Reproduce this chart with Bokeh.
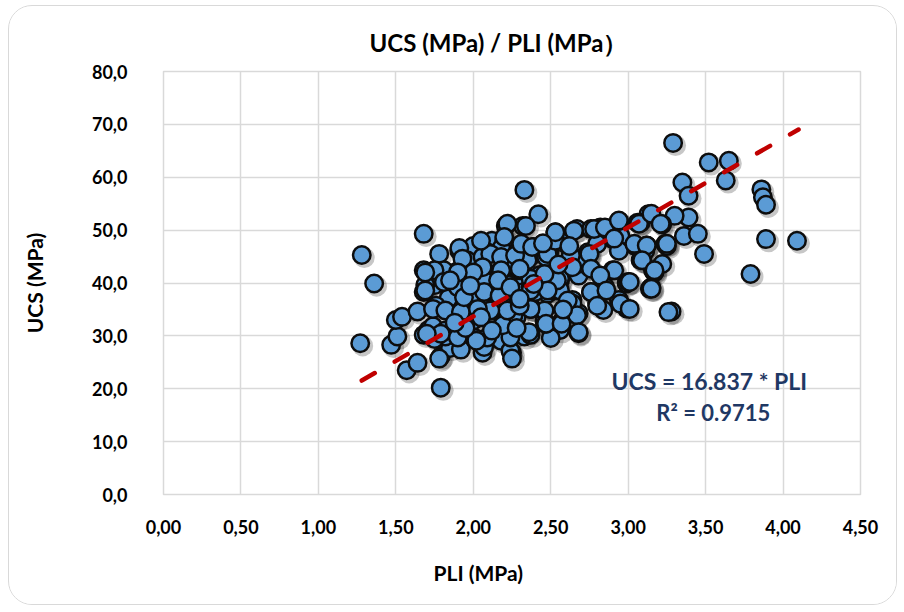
from bokeh.plotting import figure
from bokeh.models import FixedTicker, Label, ColumnDataSource, Range1d, Title
from bokeh.transform import dodge
from bokeh.embed import file_html
from bokeh.resources import INLINE

# ---- data ----
pli = [
    1.68, 1.28, 1.36, 1.27, 1.47, 1.51, 1.50, 1.54, 1.64, 1.57, 1.64, 1.79, 1.68, 1.68, 1.68, 1.71,
    1.78, 1.91, 2.00, 1.81, 1.90, 2.00, 1.96, 1.82, 1.92, 1.79, 1.85, 1.92, 1.82, 2.01, 2.06, 2.09,
    2.06, 1.96, 1.84, 1.75, 1.74, 2.18, 2.22, 2.21, 2.32, 2.14, 2.29, 2.19, 2.17, 2.29, 2.20, 2.25,
    2.25, 2.33, 2.28, 2.11, 2.07,
    3.49, 3.28, 3.14, 3.16, 3.22, 3.24, 3.36, 3.45, 3.09, 3.04, 3.12, 2.90, 2.99, 2.94, 2.99, 2.85,
    2.80, 2.76, 2.84, 2.90, 2.74, 2.63, 2.64, 2.68, 2.68, 2.57, 2.56, 2.46, 2.37, 2.50, 2.38, 2.48,
    2.56, 2.49, 2.38, 2.31, 2.29, 2.52, 2.68, 2.67, 2.82, 2.95, 2.20,
    3.29, 3.52, 3.65, 3.63, 3.35, 3.39, 3.86, 3.87, 3.89, 3.89, 4.09, 3.79, 3.39, 3.30, 3.22, 3.13,
    3.08, 3.25, 3.17, 3.15,
    2.33, 1.91, 2.22, 2.12, 2.20, 2.18, 2.32, 2.29, 2.17, 2.09, 2.06, 1.89, 1.81, 1.75, 1.69, 1.92,
    2.42,
    2.34, 2.53, 2.76, 2.84, 2.94, 3.06, 2.39, 2.57, 2.74, 2.80, 2.90, 2.94, 3.11, 3.08, 2.75, 2.69,
    2.56, 2.43, 2.35, 2.30, 2.37, 3.00, 2.85,
    1.93, 1.90, 2.07, 2.20, 2.37, 2.48, 2.47, 2.11, 2.22, 1.76, 1.82, 1.75, 2.00, 2.08, 2.19, 2.26,
    2.37, 2.47, 2.46, 2.18, 2.24, 2.25, 1.78, 2.07, 2.51, 2.40, 2.16, 2.00,
    2.20, 2.18, 2.27, 2.31, 2.38, 2.48, 2.53, 2.53, 2.65, 2.78, 2.85, 2.94, 3.07, 3.15, 3.21, 3.25,
    2.91, 3.04, 3.12, 3.09, 3.17, 3.15, 3.01, 2.91, 2.75, 2.63, 2.64, 2.76, 2.82, 2.76, 2.86, 2.80,
    2.95, 3.01, 3.26, 2.64, 2.67, 2.56, 2.54, 2.46, 2.48, 2.37, 2.30, 2.18, 2.06, 2.00, 1.90, 1.81,
    1.69, 1.69, 1.74, 1.82, 1.92, 2.07, 2.17, 2.37, 2.47, 2.57, 2.68, 2.36, 2.24, 2.19, 2.09, 2.02,
    1.90, 1.79, 1.70, 1.94, 1.85, 2.16, 2.24, 2.22, 2.30, 2.11, 2.03, 2.39, 2.61,
    1.95, 2.05, 2.12, 1.88, 2.30, 2.55, 2.45, 2.62, 2.05, 1.98, 2.28, 2.58,
]
ucs = [
    49.3, 45.3, 39.9, 28.6, 28.3, 29.9, 33.0, 33.6, 34.6, 23.5, 24.9, 20.2, 42.4, 38.3, 30.2, 31.1,
    45.5, 46.1, 47.0, 40.2, 42.1, 42.1, 44.3, 35.2, 34.9, 26.1, 27.7, 27.4, 29.9, 29.6, 26.8, 29.6,
    38.3, 37.4, 37.1, 39.6, 31.8, 42.4, 44.9, 50.8, 50.8, 46.8, 44.9, 39.3, 36.8, 38.3, 32.1, 29.9,
    26.8, 29.9, 33.6, 35.5, 40.5,
    45.5, 34.6, 38.9, 42.4, 43.6, 47.4, 48.9, 49.3, 44.3, 47.1, 47.1, 42.4, 39.9, 36.8, 35.2, 38.6,
    36.1, 38.3, 34.9, 49.3, 45.8, 45.2, 36.8, 34.3, 30.5, 32.7, 31.1, 32.7, 30.2, 29.6, 35.2, 38.0,
    40.5, 45.8, 45.2, 43.0, 41.4, 39.3, 41.4, 50.2, 50.5, 48.9, 35.5,
    66.5, 62.8, 63.1, 59.4, 59.0, 56.5, 57.7, 56.2, 54.8, 48.3, 48.0, 41.7, 52.4, 52.7, 51.1, 53.0,
    51.4, 47.0, 42.0, 39.2,
    57.6, 46.6, 51.2, 48.0, 48.1, 46.5, 45.8, 42.7, 42.1, 45.8, 44.9, 42.1, 42.4, 42.4, 39.6, 40.2,
    53.0,
    50.8, 49.6, 50.2, 50.2, 51.7, 51.4, 46.8, 47.7, 45.2, 47.4, 48.3, 46.1, 46.1, 44.3, 43.0, 43.7,
    40.9, 41.5, 44.3, 42.4, 39.3, 40.2, 39.3,
    44.6, 39.2, 38.0, 43.0, 40.8, 40.5, 44.9, 45.5, 39.8, 35.7, 31.0, 29.4, 32.9, 35.1, 32.3, 33.9,
    35.1, 32.3, 34.8, 29.1, 27.2, 25.7, 25.7, 27.9, 38.6, 38.3, 38.9, 37.0,
    48.7, 44.9, 45.2, 47.4, 46.8, 45.5, 48.0, 49.6, 49.9, 50.2, 50.5, 51.8, 51.2, 53.1, 51.2, 47.4,
    48.4, 47.4, 47.1, 44.3, 42.4, 38.9, 40.2, 42.4, 45.5, 45.2, 43.0, 42.7, 41.4, 38.3, 38.6, 35.7,
    36.1, 35.1, 34.5, 36.1, 33.9, 38.6, 40.5, 41.7, 38.6, 38.6, 42.7, 42.4, 43.0, 42.0, 42.0, 40.2,
    42.0, 38.6, 35.1, 34.8, 34.5, 38.3, 37.6, 35.1, 32.3, 32.3, 30.7, 30.7, 29.7, 32.0, 29.7, 29.1,
    29.7, 30.4, 30.4, 37.3, 40.5, 40.5, 39.2, 34.8, 35.7, 34.8, 35.1, 39.8, 36.7,
    31.5, 33.5, 31.0, 32.5, 37.0, 43.5, 47.5, 47.0, 48.0, 39.5, 31.5, 35.0,
]

x_ticks = [0.0, 0.5, 1.0, 1.5, 2.0, 2.5, 3.0, 3.5, 4.0, 4.5]
x_tick_labels = ["0,00", "0,50", "1,00", "1,50", "2,00", "2,50", "3,00", "3,50", "4,00", "4,50"]
y_ticks = [0, 10, 20, 30, 40, 50, 60, 70, 80]
y_tick_labels = ["0,0", "10,0", "20,0", "30,0", "40,0", "50,0", "60,0", "70,0", "80,0"]

slope = 16.837
r_squared = "0.9715"
trend_x = [1.28, 4.10]
trend_y = [slope * v for v in trend_x]

title_text = "UCS  (MPa) / PLI (MPa\uff09"
x_title = "PLI (MPa)"
y_title = "UCS (MPa)"
eq_text = "UCS  =  16.837 * PLI"
r2_text = "R\u00b2 = " + r_squared

# ---- styling ----
FONT = "Lato"
GRID = "#D9D9D9"
NAVY = "#1F3864"

# canvas sits inside a rounded light-grey chart border (page offset 9.5, 6.5)
p = figure(
    width=889, height=600,
    x_range=Range1d(0, 4.5), y_range=Range1d(0, 80),
    output_backend="svg", toolbar_location=None,
    min_border_left=154, min_border_right=38, min_border_top=65, min_border_bottom=112,
)
p.styles = {"border": "1.5px solid #D9D9D9", "border-radius": "24px",
            "margin-left": "8px", "margin-top": "5px", "overflow": "hidden"}
p.background_fill_color = "white"
p.border_fill_color = "white"
p.outline_line_color = GRID
p.outline_line_width = 1.5

p.title.text = title_text
p.title.align = "left"
p.title.offset = 206
p.title.text_font = FONT
p.title.text_font_style = "bold"
p.title.text_font_size = "24px"
p.title.text_color = "#000000"
p.title.standoff = 29

for ax in (p.xaxis[0], p.yaxis[0]):
    ax.axis_line_color = None
    ax.major_tick_line_color = None
    ax.minor_tick_line_color = None
    ax.major_label_text_font = FONT
    ax.major_label_text_font_style = "bold"
    ax.major_label_text_font_size = "18px"
    ax.major_label_text_color = "#000000"
    ax.axis_label_text_font = FONT
    ax.axis_label_text_font_style = "bold"
    ax.axis_label_text_font_size = "21px"
    ax.axis_label_text_color = "#000000"

p.xaxis.ticker = FixedTicker(ticks=x_ticks)
p.xaxis.major_label_overrides = dict(zip(x_ticks, x_tick_labels))
p.xaxis.major_label_standoff = 19

p.yaxis.ticker = FixedTicker(ticks=y_ticks)
p.yaxis.major_label_overrides = dict(zip(y_ticks, y_tick_labels))
p.yaxis.axis_label = y_title
p.yaxis.major_label_standoff = 30
p.yaxis.axis_label_standoff = 42

p.xgrid.ticker = FixedTicker(ticks=x_ticks)
p.ygrid.ticker = FixedTicker(ticks=y_ticks)
p.grid.grid_line_color = GRID
p.grid.grid_line_width = 1.5

# x-axis title below the tick labels, left of the frame centre as in the reference
p.add_layout(Title(text=x_title, align="left", offset=270, standoff=42, text_font=FONT,
                   text_font_style="bold", text_font_size="21px", text_color="#000000"),
             "below")

src = ColumnDataSource(dict(pli=pli, ucs=ucs))

# soft drop shadow
p.scatter(x=dodge("pli", 0.016, range=p.x_range), y=dodge("ucs", -0.5, range=p.y_range),
          source=src, size=21, fill_color="#000000", fill_alpha=0.22, line_color=None)
# balls
p.scatter(x="pli", y="ucs", source=src, size=17.5, fill_color="#5B9BD5",
          line_color="#0D0D0D", line_width=2.5)

# trend line
p.line(trend_x, trend_y, line_color="#C00000", line_width=4.5, line_dash="15 23", line_cap="round")

p.add_layout(Label(x=3.56, y=21.4, text=eq_text, text_align="center", text_baseline="middle",
                   text_font=FONT, text_font_style="bold", text_font_size="23px", text_color=NAVY))
p.add_layout(Label(x=3.55, y=15.5, text=r2_text, text_align="center", text_baseline="middle",
                   text_font=FONT, text_font_style="bold", text_font_size="22px", text_color=NAVY))

open("out.html", "w").write(file_html(p, INLINE))
